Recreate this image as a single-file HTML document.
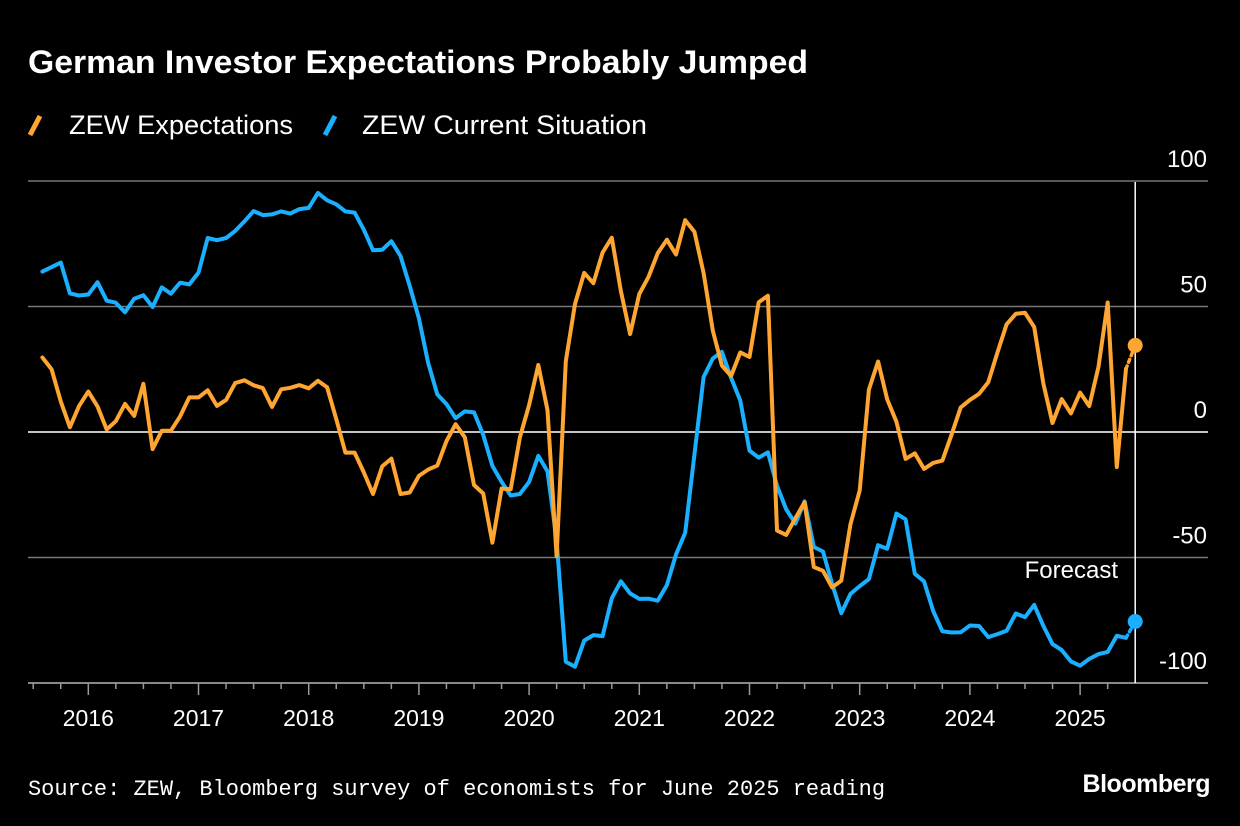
<!DOCTYPE html>
<html><head><meta charset="utf-8">
<style>
html,body{margin:0;padding:0;background:#000;}
body{width:1240px;height:826px;overflow:hidden;position:relative;font-family:"Liberation Sans",sans-serif;color:#fff;}
</style></head>
<body>
<svg id="chart" width="1240" height="826" xmlns="http://www.w3.org/2000/svg" style="position:absolute;left:0;top:0">
<text x="28" y="73" font-family="Liberation Sans, sans-serif" font-weight="bold" font-size="32" fill="#fff" textLength="780" lengthAdjust="spacingAndGlyphs">German Investor Expectations Probably Jumped</text>
<g>
<line x1="30" y1="135" x2="40" y2="116" stroke="#ffa532" stroke-width="5"/>
<text x="69" y="134" font-size="27" fill="#fff" textLength="224" lengthAdjust="spacingAndGlyphs">ZEW Expectations</text>
<line x1="325" y1="135" x2="335" y2="116" stroke="#1ab0ff" stroke-width="5"/>
<text x="362" y="134" font-size="27" fill="#fff" textLength="285" lengthAdjust="spacingAndGlyphs">ZEW Current Situation</text>
</g>
<g id="grid"></g>
<g id="series"></g>
<text x="1118" y="578" text-anchor="end" font-size="24" fill="#fff">Forecast</text>
<text x="28" y="795" font-family="Liberation Mono, monospace" font-size="22" fill="#fff" textLength="857" lengthAdjust="spacingAndGlyphs">Source: ZEW, Bloomberg survey of economists for June 2025 reading</text>
<text x="1210" y="792" text-anchor="end" font-weight="bold" font-size="25" letter-spacing="-0.5" fill="#fff">Bloomberg</text>
</svg>
<script>
const startYear = 2015, startMonth = 6; // July 2015
const expectations = [29.7,25.0,12.1,1.9,10.4,16.1,
10.2,1.0,4.3,11.2,6.4,19.2,-6.8,0.5,0.5,6.2,13.8,13.8,
16.6,10.4,12.8,19.5,20.6,18.6,17.5,10.0,17.0,17.6,18.7,17.4,
20.4,17.8,5.1,-8.2,-8.2,-16.1,-24.7,-13.7,-10.6,-24.7,-24.1,-17.5,
-15.0,-13.4,-3.6,3.1,-2.1,-21.1,-24.5,-44.1,-22.5,-22.8,-2.1,10.7,
26.7,8.7,-49.5,28.2,51.0,63.4,59.3,71.5,77.4,56.1,39.0,55.0,
61.8,71.2,76.6,70.7,84.4,79.8,63.3,40.4,26.5,22.3,31.7,29.9,
51.7,54.3,-39.3,-41.0,-34.3,-28.0,-53.8,-55.3,-61.9,-59.2,-36.7,-23.3,
16.9,28.1,13.0,4.1,-10.7,-8.5,-14.7,-12.3,-11.4,-1.1,9.8,12.8,
15.2,19.9,31.7,42.9,47.1,47.5,41.8,19.2,3.6,13.1,7.4,15.7,
10.3,26.0,51.6,-14.0,25.2];
const current = [63.9,65.7,67.5,55.2,54.4,54.8,
59.7,52.3,51.5,47.7,53.1,54.5,49.8,57.6,55.1,59.5,58.8,63.5,
77.3,76.4,77.3,80.1,83.9,88.0,86.4,86.7,87.9,87.0,88.8,89.3,
95.2,92.3,90.7,87.9,87.4,80.6,72.4,72.6,76.0,70.1,58.2,45.3,
27.6,15.0,11.1,5.5,8.2,7.8,-1.1,-13.5,-19.9,-25.3,-24.7,-19.9,
-9.5,-15.7,-43.1,-91.5,-93.5,-83.1,-80.9,-81.3,-66.2,-59.5,-64.3,-66.5,
-66.4,-67.2,-61.0,-48.8,-40.1,-9.1,21.9,29.3,31.9,21.6,12.5,-7.4,
-10.2,-8.1,-21.4,-30.8,-36.5,-27.6,-45.8,-47.6,-60.5,-72.2,-64.5,-61.4,
-58.6,-45.1,-46.5,-32.5,-34.8,-56.5,-59.5,-71.3,-79.4,-79.9,-79.8,-77.1,
-77.3,-81.7,-80.5,-79.2,-72.3,-73.8,-68.9,-77.3,-84.5,-86.9,-91.4,-93.1,
-90.4,-88.5,-87.6,-81.2,-82.0];
const forecastExpectations = 34.5;
const forecastCurrent = -75.5;
const yTicks = [100,50,0,-50,-100];
const yearLabels = [2016,2017,2018,2019,2020,2021,2022,2023,2024,2025];

const NS = "http://www.w3.org/2000/svg";
const X0 = 88.3, PX_YEAR = 110.2;
function xIdx(i){ const m = (startYear-2016)*12 + startMonth + i + 1; return X0 + m*PX_YEAR/12; }
const y = v => 432 - v*2.51;
function mk(tag, attrs, parent){ const el=document.createElementNS(NS,tag); for(const k in attrs) el.setAttribute(k,attrs[k]); parent.appendChild(el); return el; }
const grid = document.getElementById('grid'), series = document.getElementById('series');

yTicks.forEach(t=>{
  if(t!==-100){
    const l = mk('line',{x1:28,x2:1208,y1:y(t),y2:y(t),stroke:t===0?'#e0e0e0':'#777','stroke-width':t===0?1.8:1.5},grid);
    
    
  }
  const tx = mk('text',{x:1207,y:y(t)-14,'text-anchor':'end','font-size':24,fill:'#fff'},grid);
  tx.textContent = t;
  
  
});
const base = mk('line',{x1:28,x2:1208,y1:y(-100),y2:y(-100),stroke:'#888','stroke-width':2},grid);


const by = y(-100);
for(let q=-2; q<=38; q++){
  const x = X0 + q*PX_YEAR/4;
  if(x<30||x>1130) continue;
  const major = q%4===0;
  const tk = mk('line',{x1:x,x2:x,y1:by,y2:by+(major?12:6),stroke:'#999','stroke-width':1.5},grid);
  
  
}
yearLabels.forEach(yr=>{
  const tx = mk('text',{x:X0+(yr-2016)*PX_YEAR,y:726,'text-anchor':'middle','font-size':23,fill:'#fff'},grid);
  tx.textContent = yr;
  
  
});
const fi = expectations.length;
const vline = mk('line',{x1:xIdx(fi),x2:xIdx(fi),y1:182,y2:by,stroke:'#fff','stroke-width':1.5},grid);



function drawSeries(arr, fc, color, name){
  const pts = arr.map((v,i)=>xIdx(i).toFixed(1)+','+y(v).toFixed(1)).join(' ');
  const pl = mk('polyline',{points:pts,fill:'none',stroke:color,'stroke-width':4,'stroke-linejoin':'round','stroke-linecap':'round'},series);
  
  
  const n = arr.length-1;
  const dl = mk('line',{x1:xIdx(n),y1:y(arr[n]),x2:xIdx(fi),y2:y(fc),stroke:color,'stroke-width':3.5,'stroke-dasharray':'3,4','stroke-linecap':'round'},series);
  
  
  const c = mk('circle',{cx:xIdx(fi),cy:y(fc),r:7.5,fill:color},series);
  
  
}
drawSeries(current, forecastCurrent, '#1ab0ff', 'current-situation');
drawSeries(expectations, forecastExpectations, '#ffa532', 'expectations');
</script>
</body></html>
